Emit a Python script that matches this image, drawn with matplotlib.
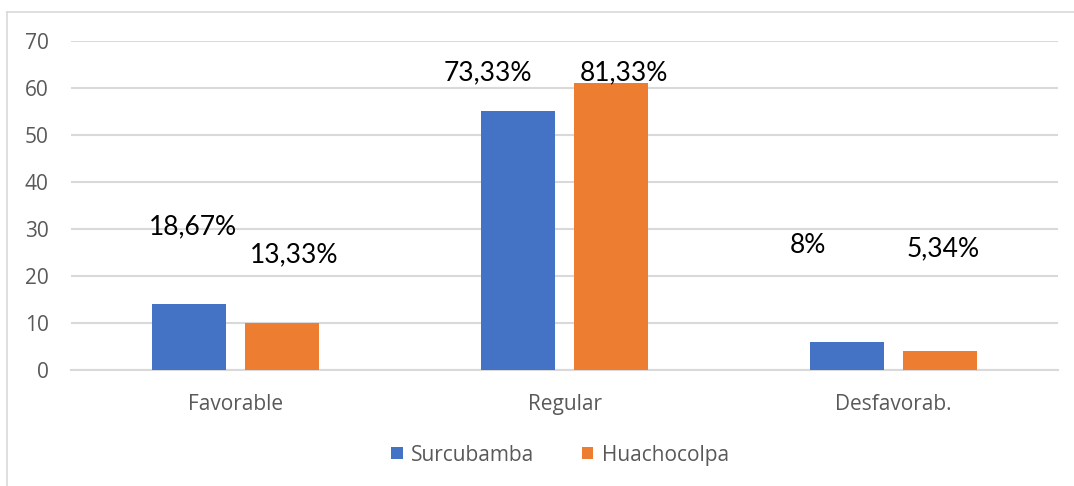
import matplotlib
matplotlib.use("Agg")
import matplotlib.pyplot as plt
from matplotlib.lines import Line2D
import numpy as np

categories = ["Favorable", "Regular", "Desfavorab."]
series_names = ["Surcubamba", "Huachocolpa"]
surcubamba = [14, 55, 6]
huachocolpa = [10, 61, 4]
surc_labels = ["18,67%", "73,33%", "8%"]
huach_labels = ["13,33%", "81,33%", "5,34%"]
yticks = [0, 10, 20, 30, 40, 50, 60, 70]

colors = ["#4472C4", "#ED7D31"]
grid_c = "#D9D9D9"
txt_c = "#595959"
plt.rcParams["font.family"] = ["Open Sans", "DejaVu Sans"]

W, H = 1074, 486
fig = plt.figure(figsize=(W / 100, H / 100), dpi=100)
ax = fig.add_axes([71 / W, (H - 370) / H, (1058 - 71) / W, (370 - 41) / H])

x = np.arange(len(categories))
bw = 0.225
off = 0.1415
ax.bar(x - off, surcubamba, bw, color=colors[0], label=series_names[0], zorder=3)
ax.bar(x + off, huachocolpa, bw, color=colors[1], label=series_names[1], zorder=3)

ax.set_xlim(-0.5, 2.5)
ax.set_ylim(0, 70)
ax.set_yticks(yticks)
ax.set_xticks(x)
ax.set_xticklabels(categories)
ax.tick_params(axis="both", length=0, labelsize=15, colors=txt_c)
ax.tick_params(axis="y", pad=16)
ax.tick_params(axis="x", pad=17)
ax.grid(axis="y", color=grid_c, linewidth=1.5, zorder=0)
for s in ["top", "right", "left"]:
    ax.spines[s].set_visible(False)
ax.spines["bottom"].set_color(grid_c)
ax.spines["bottom"].set_linewidth(1.5)

# manually placed data labels (positions relative to each category)
surc_pos = [(-0.129, 30.4), (0.766 - 1, 63.2), (1.740 - 2, 26.4)]
huach_pos = [(0.178, 24.5), (1.181 - 1, 63.2), (2.150 - 2, 25.7)]
for i in range(len(categories)):
    dx, yy = surc_pos[i]
    ax.text(x[i] + dx, yy, surc_labels[i], ha="center", va="center", fontsize=19,
            family=["Lato", "DejaVu Sans"], color="black", zorder=4)
    dx, yy = huach_pos[i]
    ax.text(x[i] + dx, yy, huach_labels[i], ha="center", va="center", fontsize=19,
            family=["Lato", "DejaVu Sans"], color="black", zorder=4)

leg = fig.legend(loc="center", bbox_to_anchor=(560 / W, 1 - 455 / H), ncol=2, frameon=False,
                 fontsize=15, handlelength=0.55, handleheight=0.55, handletextpad=0.4, columnspacing=2.3)
for t in leg.get_texts():
    t.set_color(txt_c)

# outer chart border
fig.add_artist(Line2D([7 / W, 7 / W], [0, 1 - 12 / H], color=grid_c, linewidth=1.2, transform=fig.transFigure))
fig.add_artist(Line2D([7 / W, 1], [1 - 12 / H, 1 - 12 / H], color=grid_c, linewidth=1.2, transform=fig.transFigure))

fig.savefig("out.png", dpi=100)
